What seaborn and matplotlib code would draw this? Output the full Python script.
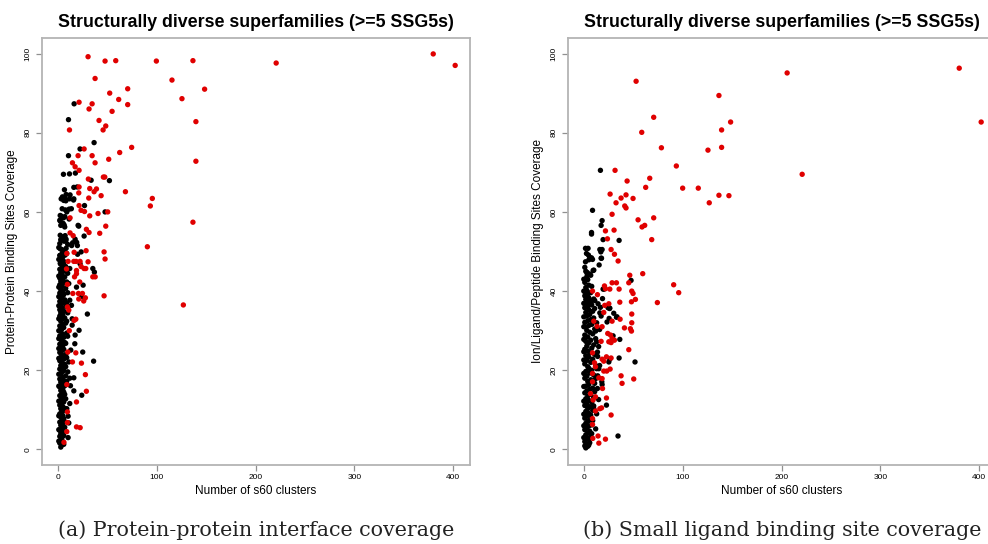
import matplotlib
matplotlib.use("Agg")
import matplotlib.pyplot as plt
import seaborn as sns
import pandas as pd

# ---------------- data ----------------
TITLE = "Structurally diverse superfamilies (>=5 SSG5s)"
XLABEL = "Number of s60 clusters"
YLABEL_A = "Protein-Protein Binding Sites Coverage"
YLABEL_B = "Ion/Ligand/Peptide Binding Sites Coverage"
CAPTION_A = "(a) Protein-protein interface coverage"
CAPTION_B = "(b) Small ligand binding site coverage"
XTICKS = [0, 100, 200, 300, 400]
YTICKS = [0, 20, 40, 60, 80, 100]

# panel (a) - red superfamilies
red_a = [
    (30.6, 99.2), (47.8, 98.1), (58.6, 98.2), (99.7, 98.1), (136.7, 98.2), (220.9, 97.6), (379.8, 99.9), (402, 97.0),
    (37.7, 93.7), (115.5, 93.3), (148.5, 91.0), (70.7, 91.1), (52.5, 90.0), (21.5, 87.7), (34.7, 87.3), (31.6, 86.0),
    (61.6, 88.4), (70.7, 87.1), (125.6, 88.6), (54.9, 85.4), (41.7, 83.1), (48.5, 81.7), (45.8, 80.7), (11.8, 80.7),
    (139.7, 82.8), (74.7, 76.3), (62.6, 75.0), (26.6, 75.9), (20.5, 74.2), (34.7, 74.2), (14.8, 72.4), (17.5, 71.4),
    (37.7, 72.4), (51.5, 73.3), (139.7, 72.8), (21.5, 70.5), (30.9, 68.3), (46.1, 68.8), (47.5, 68.8),
    (21.5, 66.3), (32.3, 65.9), (39.1, 65.8), (36.7, 65.1), (21.2, 64.8), (68.4, 65.1), (43.8, 64.1), (31.3, 63.5),
    (95.6, 63.4), (93.6, 61.5), (21.5, 61.6), (23.5, 60.4), (27.0, 60.1), (40.7, 59.6), (50.5, 60.0), (32.3, 59.0),
    (12.4, 58.5), (136.7, 57.4), (48.5, 56.4), (28.9, 55.6), (31.6, 54.8), (12.4, 54.7), (42.4, 54.6), (15.5, 54.0),
    (90.6, 51.2), (28.6, 50.2), (46.8, 49.9), (9.1, 49.5), (16.5, 49.8), (47.8, 48.1),
    (10.4, 47.5), (16.2, 47.5), (18.5, 47.5), (22.5, 47.5), (30.6, 47.4), (23.6, 46.2), (26.6, 45.7), (28.3, 45.7),
    (18.9, 45.2), (8.8, 45.6), (18.9, 44.4), (35.4, 43.6), (37.8, 43.6), (16.9, 43.6), (22.2, 42.3), (9.7, 41.7),
    (46.8, 38.8), (127, 36.5), (15.2, 39.4), (20.9, 39.4), (24.9, 39.4), (21.2, 38.0), (26.2, 37.5), (27.9, 38.3),
    (9.7, 36.0), (11.1, 35.2), (18.2, 32.9), (16.5, 32.6), (11.6, 30.0), (10.1, 24.6), (18.2, 24.4), (14.8, 22.1),
    (23.9, 21.8), (27.9, 18.9), (9.1, 16.4), (28.9, 14.7), (18.9, 12.0), (9.7, 9.5), (9.7, 6.8), (18.9, 5.7),
    (22.6, 5.5), (9.1, 4.5), (6.2, 1.8),
]

# panel (a) - black superfamilies (sparse part)
black_a_sparse = [
    (16.5, 87.3), (10.8, 83.3), (36.7, 77.5), (22.5, 75.9), (10.8, 74.2), (5.7, 69.5), (11.8, 69.6), (17.8, 69.8),
    (33.7, 68.0), (52.2, 67.9), (16.2, 66.2), (19.5, 66.3), (6.7, 65.6), (3.4, 63.3), (7.4, 63.3), (11.8, 63.3),
    (16.2, 63.3), (6.0, 62.9), (8.1, 62.8), (27.0, 61.6), (4.4, 60.8), (7.7, 60.5), (11.4, 60.7), (13.7, 60.8),
    (9.1, 60.0), (47.8, 60.0), (2.4, 59.1), (5.7, 58.5), (2.4, 57.7), (21.2, 56.4), (7.0, 56.2), (6.4, 56.7),
    (26.6, 53.9), (2.4, 54.1), (4.4, 53.7), (7.4, 54.0), (3.4, 52.9), (6.4, 52.6), (8.4, 53.1), (17.5, 53.1),
    (19.1, 52.3), (19.8, 51.5), (2.4, 50.7), (5.7, 50.2), (8.4, 50.8), (4.4, 49.5), (7.4, 49.1), (23.6, 49.9),
    (2.4, 49.0), (2.4, 47.0), (5.7, 46.6), (4.7, 46.2), (8.7, 45.7), (12.1, 45.7), (22.5, 46.9), (35.4, 45.7),
    (8.4, 64.4), (12.4, 64.3), (4.7, 63.8), (15.9, 63.0), (3.7, 58.9), (7.1, 58.8), (2.0, 57.9), (11.4, 58.2),
    (3.0, 56.6), (5.4, 57.1), (20.5, 56.6), (3, 53.0), (5, 53.5), (8, 52.7), (2, 52.0), (10, 51.8), (14, 51.5),
    (15, 52.2), (1, 51.0), (4, 50.5), (7, 50.0), (2, 49.0), (5, 48.6), (9, 49.5), (1, 48.0), (3, 47.8), (6, 47.2),
    (20, 49.3), (37, 44.8),
    (36.2, 22.3), (29.9, 34.2), (25.2, 24.6), (24.2, 38.6), (24.2, 13.7), (21.5, 30.1), (17.2, 26.7), (16.2, 18.1),
    (16.2, 14.8), (12.8, 16.1), (11.1, 6.7), (10.4, 3.0), (10.4, 8.4), (13.1, 25.1), (14.5, 33.0), (14.5, 31.4),
    (12.1, 37.7), (11.1, 41.9), (18.9, 41.0), (25.6, 41.5), (13.8, 36.4), (17.5, 28.9), (11.1, 22.1), (10.1, 19.6),
    (12.1, 18.0), (12.1, 11.6), (9.1, 10.3),
]

# panel (a) - black superfamilies (dense column near the y axis)
black_a_column = [
    (3, 0.6), (4, 1.1), (2, 1.6), (5, 2.0), (3, 2.4), (4, 2.9), (2, 3.3), (6, 3.5), (3, 3.9), (5, 4.4), (2, 4.8),
    (4, 5.2), (7, 5.6), (3, 6.1), (5, 6.5), (2, 6.9), (4, 7.3), (6, 7.8), (3, 8.2), (5, 8.6), (2, 9.0), (4, 9.5),
    (7, 9.9), (3, 10.3), (5, 10.8), (2, 11.2), (4, 11.6), (6, 12.0), (3, 12.5), (8, 12.8), (5, 13.2), (2, 13.6),
    (4, 14.1), (6, 14.5), (3, 14.9), (5, 15.3), (2, 15.8), (7, 16.1), (4, 16.5), (3, 17.0), (6, 17.4), (2, 17.8),
    (5, 18.2), (8, 18.6), (3, 19.0), (4, 19.5), (6, 19.9), (2, 20.3), (5, 20.7), (3, 21.2), (7, 21.5), (4, 22.0),
    (2, 22.4), (6, 22.8), (3, 23.3), (5, 23.7), (8, 24.0), (2, 24.5), (4, 24.9), (6, 25.3), (3, 25.8), (5, 26.2),
    (2, 26.6), (7, 27.0), (4, 27.4), (3, 27.9), (6, 28.3), (2, 28.7), (5, 29.1), (9, 29.4), (3, 29.9), (4, 30.4),
    (6, 30.8), (2, 31.2), (5, 31.6), (8, 31.9), (3, 32.4), (4, 32.8), (7, 33.2), (2, 33.7), (5, 34.0), (3, 34.5),
    (6, 34.9), (2, 35.3), (4, 35.8), (8, 36.1), (3, 36.6), (5, 37.0), (2, 37.4), (7, 37.8), (4, 38.2), (3, 38.7),
    (6, 39.1), (2, 39.5), (5, 39.9), (3, 40.4), (8, 40.7), (4, 41.2), (2, 41.6), (6, 42.0), (3, 42.5), (5, 42.9),
    (2, 43.3), (7, 43.6), (4, 44.1), (3, 44.6), (6, 45.0), (2, 45.5), (5, 46.0),
    (1, 2.1), (6, 1.3), (1, 5.0), (7, 7.0), (1, 8.5), (6, 10.5), (1, 12.2), (7, 13.9), (1, 16.0), (9, 17.2),
    (1, 19.0), (8, 20.9), (1, 23.0), (9, 23.2), (1, 25.5), (8, 26.8), (1, 28.0), (10, 28.6), (1, 30.0), (9, 32.4),
    (1, 33.0), (10, 34.5), (1, 36.3), (9, 37.0), (1, 38.6), (10, 39.6), (1, 41.0), (9, 42.3), (1, 43.8), (10, 44.5),
    (8, 46.2), (3, 46.8), (6, 47.5),
]

# panel (b) - red superfamilies
red_b = [
    (52.9, 93.0), (205.7, 95.1), (379.8, 96.3), (402, 82.7), (136.7, 89.4), (70.7, 83.9), (148.5, 82.7), (139.4, 80.7),
    (58.6, 80.1), (78.5, 76.2), (125.6, 75.6), (139.4, 76.3), (93.6, 71.6), (220.9, 69.5), (31.6, 70.5), (43.8, 67.8),
    (66.7, 68.5), (62.6, 66.2), (100, 66.0), (115.8, 66.0), (26.6, 64.5), (42.7, 64.3), (37.7, 63.5), (49.8, 63.4),
    (136.7, 64.2), (146.8, 64.1), (126.9, 62.3), (32.6, 62.3), (41.4, 61.5), (42.7, 61.0), (28.6, 59.4), (70.7, 58.5),
    (54.9, 58.0), (58.9, 56.2), (61.6, 56.6), (21.9, 55.2), (30.6, 55.4), (23.9, 53.2), (68.7, 53.0), (27.6, 50.5),
    (31.0, 49.3), (34.7, 47.6),
    (59.6, 44.4), (46.5, 44.0), (45.5, 42.1), (28.6, 42.1), (33, 42.1), (20.9, 41.3), (21.9, 40.6), (35.7, 40.5),
    (26.3, 40.5), (8.8, 40.0), (48.5, 40.0), (49.8, 39.4), (48.2, 37.3), (52.2, 37.9), (90.9, 41.6), (96.0, 39.6),
    (74.4, 37.1), (36.4, 37.2), (13.8, 39.1), (25.3, 36.8), (21.2, 36.4), (20.2, 34.6), (48.5, 34.2), (48.5, 32.0),
    (36.7, 32.9), (28.6, 32.4), (10.1, 32.4), (47.1, 30.5), (48.2, 29.9), (41.1, 30.7), (18.5, 31.0), (13.4, 31.1),
    (24.2, 29.3), (27, 28.9), (28.6, 28.0), (31.0, 27.6), (25.3, 27.2), (27.6, 27.0), (17.5, 27.3), (45.5, 25.2),
    (8.8, 24.4), (22.9, 23.4), (27.6, 23.1), (18.5, 22.8), (10.8, 21.9), (20.2, 22.3), (11.8, 20.9), (20.2, 19.8),
    (23.2, 19.8), (26.6, 20.3), (37.7, 18.6), (38.7, 16.7), (50.5, 17.8), (15.2, 18.1), (18.5, 17.9), (18.9, 15.4),
    (8.8, 19.2), (8.8, 17.1), (6.8, 14.1), (11.8, 13.3), (9.4, 12.5), (22.9, 13.0), (16.2, 10.3), (17.9, 10.5),
    (11.8, 9.7), (27.6, 8.7), (8.8, 7.8), (8.8, 6.3), (14.4, 3.4), (21.9, 2.6), (15.2, 1.6), (9.1, 2.8),
]

# panel (b) - black superfamilies (sparse part)
black_b_sparse = [
    (16.8, 70.5), (8.8, 60.4), (18.5, 57.8), (17.5, 56.6), (7.8, 54.8), (7.8, 54.4), (19.5, 53.0), (35.7, 52.8),
    (1.7, 50.8), (4.3, 50.8), (2.7, 49.5), (4.7, 49.1), (16.2, 50.5), (18.5, 50.5), (17.5, 48.3), (7.8, 48.4),
    (5.1, 47.9), (1.7, 47.4), (15.5, 46.6), (9.4, 45.2), (10.1, 45.3), (3.4, 44.7), (17.2, 49.9), (6.1, 48.5),
    (8.8, 48.0), (17.9, 48.3),
    (47.8, 42.7), (51.8, 22.1), (35.7, 23.1), (34.6, 3.4), (36.4, 27.8), (29.6, 28.7), (26, 35.6), (23.5, 32.2),
    (33.6, 33.5), (22.9, 11.2), (19.5, 40.5), (18.9, 38.1), (16.8, 35.9), (16.2, 34.5), (17.5, 33.7), (25.3, 22.1),
    (26.3, 22.8), (18.5, 16.4), (18.2, 17.1), (13.8, 24.6), (15.2, 20.4), (13.8, 15.4), (10.1, 10.3), (3.4, 39.8),
    (5.1, 38.1), (6.8, 36.8), (3.4, 44.4), (1.0, 39.9), (3.7, 38.6), (7.1, 37.3), (11.1, 37.6), (14.4, 36.8),
    (20.5, 40.5), (24.5, 35.8), (25.6, 33.1), (33.0, 33.4), (26.3, 35.7), (30.3, 34.4),
]

# panel (b) - black superfamilies (dense column near the y axis)
black_b_column = [
    (2, 0.4), (4, 0.8), (3, 1.3), (6, 1.7), (1, 2.0), (5, 2.5), (3, 2.9), (7, 3.2), (2, 3.7), (4, 4.1), (6, 4.6),
    (1, 5.0), (3, 5.4), (5, 5.9), (8, 6.2), (2, 6.6), (4, 7.1), (6, 7.5), (1, 7.9), (3, 8.4), (7, 8.7), (5, 9.1),
    (2, 9.6), (9, 9.9), (4, 10.3), (6, 10.8), (1, 11.1), (3, 11.6), (8, 11.9), (5, 12.4), (2, 12.8), (10, 13.1),
    (4, 13.5), (7, 13.9), (1, 14.3), (3, 14.8), (6, 15.2), (9, 15.5), (2, 16.0), (5, 16.4), (11, 16.7), (4, 17.2),
    (7, 17.6), (1, 18.0), (3, 18.5), (10, 18.8), (6, 19.3), (2, 19.7), (8, 20.0), (5, 20.5), (4, 20.9), (12, 21.2),
    (1, 21.6), (7, 22.0), (3, 22.5), (9, 22.8), (5, 23.3), (2, 23.7), (11, 24.0), (6, 24.4), (4, 24.9), (1, 25.3),
    (8, 25.6), (3, 26.1), (10, 26.4), (5, 26.9), (2, 27.3), (7, 27.6), (12, 28.0), (4, 28.4), (1, 28.9), (9, 29.2),
    (6, 29.6), (3, 30.1), (11, 30.4), (2, 30.9), (5, 31.3), (8, 31.6), (1, 32.1), (4, 32.5), (7, 32.8), (10, 33.2),
    (3, 33.7), (6, 34.1), (2, 34.6), (9, 34.9), (5, 35.3), (1, 35.8), (4, 36.2), (8, 36.5), (3, 37.0), (6, 37.4),
    (2, 37.9), (5, 38.3), (1, 38.8), (4, 39.2), (7, 39.6), (3, 40.2), (2, 40.9), (5, 41.5), (1, 42.2), (4, 42.9),
    (3, 43.6), (6, 44.3), (2, 45.0), (1, 46.0),
    (1, 0.9), (5, 1.1), (0, 3.0), (8, 4.0), (0, 6.0), (9, 7.3), (0, 8.9), (10, 11.0), (0, 12.2), (11, 14.6),
    (0, 15.9), (12, 17.9), (0, 19.2), (13, 20.4), (0, 22.6), (14, 23.5), (0, 24.7), (13, 27.2), (0, 27.8),
    (12, 29.9), (0, 31.0), (13, 32.0), (0, 33.5), (11, 35.6), (0, 36.9), (10, 38.0), (0, 40.0), (8, 41.2),
    (0, 43.0), (7, 44.0), (15, 26.0), (16, 30.3), (14, 18.6), (15, 12.6), (13, 9.0), (12, 5.2), (16, 21.2),
]

RED = "#e00000"
BLACK = "#000000"
FRAME = "#b4b4b4"


def make_df(black_lists, red):
    rows = []
    for lst in black_lists:
        rows += [(x, y, "black") for x, y in lst]
    rows += [(x, y, "red") for x, y in red]
    return pd.DataFrame(rows, columns=["clusters", "coverage", "group"])


sns.set_theme(style="white")
plt.rcParams["font.family"] = ["Liberation Sans", "DejaVu Sans"]
plt.rcParams["text.color"] = "black"
plt.rcParams["axes.labelcolor"] = "black"
plt.rcParams["xtick.color"] = "black"
plt.rcParams["ytick.color"] = "black"

fig = plt.figure(figsize=(9.88, 5.44), dpi=100)
W, H = 988.0, 544.0
ax_a = fig.add_axes([42 / W, 78.7 / H, 428 / W, 427.6 / H])
ax_b = fig.add_axes([568 / W, 78.7 / H, 428 / W, 427.6 / H])

panels = [
    (ax_a, make_df([black_a_column, black_a_sparse], red_a), YLABEL_A),
    (ax_b, make_df([black_b_column, black_b_sparse], red_b), YLABEL_B),
]

for ax, df, ylab in panels:
    sns.scatterplot(data=df, x="clusters", y="coverage", hue="group",
                    palette={"black": BLACK, "red": RED}, s=15, linewidth=0,
                    legend=False, ax=ax)
    ax.set_xlim(-16, 417)
    ax.set_ylim(-4, 104)
    ax.set_xticks(XTICKS)
    ax.set_yticks(YTICKS)
    ax.set_xlabel(XLABEL, fontsize=8.5, labelpad=3, color="black")
    ax.set_ylabel(ylab, fontsize=8.5, labelpad=5, color="black")
    ax.set_title(TITLE, fontsize=12.8, fontweight="bold", pad=8, color="black")
    for sp in ax.spines.values():
        sp.set_color(FRAME)
        sp.set_linewidth(1.3)
    ax.tick_params(axis="both", direction="out", length=4, width=0.9,
                   color="#909090", labelcolor="black", labelsize=6, pad=2,
                   bottom=True, left=True, top=False, right=False)
    ax.tick_params(axis="y", pad=3.5)
    plt.setp(ax.get_yticklabels(), rotation=90, va="center", ha="right")

cap_font = ["DejaVu Serif", "Liberation Serif"]
fig.text(256 / W, 1 - 530 / H, CAPTION_A, ha="center", va="center",
         fontsize=14.9, family=cap_font, color="#222222")
fig.text(782 / W, 1 - 530 / H, CAPTION_B, ha="center", va="center",
         fontsize=14.9, family=cap_font, color="#222222")

fig.savefig("out.png", dpi=100)
